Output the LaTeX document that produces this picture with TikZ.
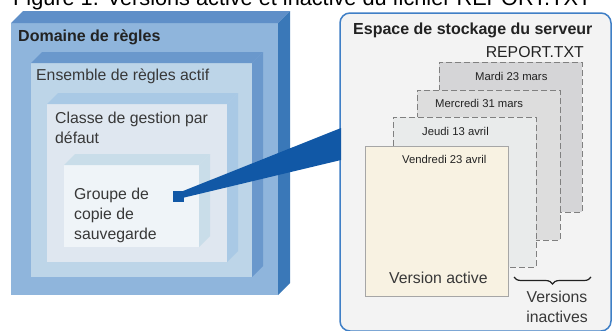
\documentclass[tikz,border=0pt]{standalone}
\usepackage{fontspec}
\setmainfont{Liberation Sans}
\usetikzlibrary{calc, decorations.pathreplacing}
\definecolor{domfront}{HTML}{8FB5DC}
\definecolor{domtop}{HTML}{5F8FC8}
\definecolor{domside}{HTML}{3A78B8}
\definecolor{ensfront}{HTML}{BDD5E8}
\definecolor{ensbevel}{HTML}{6A98CC}
\definecolor{clsfront}{HTML}{DFE7F0}
\definecolor{clsbevel}{HTML}{A9C9E5}
\definecolor{grpfront}{HTML}{EFF4F8}
\definecolor{grpbevel}{HTML}{C9DDE9}
\definecolor{figblue}{HTML}{1158A6}
\definecolor{srvline}{HTML}{3F7FC6}
\definecolor{srvfill}{HTML}{F3F3F3}
\definecolor{pgline}{HTML}{808080}
\definecolor{pgmardi}{HTML}{D5D5D7}
\definecolor{pgmercredi}{HTML}{DDDDDD}
\definecolor{pgjeudi}{HTML}{E9EBEB}
\definecolor{pgactive}{HTML}{F8F2E2}
\definecolor{txtdark}{HTML}{222222}
\definecolor{txtgray}{HTML}{383838}
\tikzset{
  face/.style={anchor=north west, inner sep=0pt, outer sep=0pt},
  ttl/.style={anchor=base west, inner sep=0pt, text=txtdark,
              font=\fontsize{16}{20}\selectfont\bfseries},
  lbl/.style={anchor=base west, inner sep=0pt, text=txtgray, align=left,
              font=\fontsize{15.8}{20}\selectfont},
  page/.style={anchor=north west, inner sep=0pt, outer sep=0pt,
               minimum width=143pt, minimum height=150pt},
  pgdash/.style={page, draw=pgline, line width=1pt, dash pattern=on 6pt off 3pt},
  pglbl/.style={anchor=base west, inner sep=0pt, text=txtdark,
                font=\fontsize{11.3}{13}\selectfont},
}
\newcommand{\bevel}[4]{%
  \fill[#3] (#1.north west) -- ++(#2,-#2) -- ([shift={(#2,-#2)}]#1.north east)
    -- (#1.north east) -- cycle;
  \fill[#4] (#1.north east) -- ++(#2,-#2) -- ([shift={(#2,-#2)}]#1.south east)
    -- (#1.south east) -- cycle;}

\begin{document}
\begin{tikzpicture}[x=1pt, y=-1pt]
  \useasboundingbox (0,0) rectangle (612,330);
  \fill[white] (0,0) rectangle (612,330);

  \node[anchor=base west, inner sep=0pt, text=black,
        font=\fontsize{21.7}{26}\selectfont] (titre) at (13,5)
    {Figure 1. Versions active et inactive du fichier REPORT.TXT};

  % regles
  \node[face, fill=domfront, minimum width=267pt, minimum height=272pt] (domaine) at (11,23) {};
  \bevel{domaine}{12}{domtop}{domside}
  \node[face, fill=ensfront, minimum width=221pt, minimum height=214pt] (ensemble) at (31,63) {};
  \bevel{ensemble}{11}{ensbevel}{ensbevel}
  \node[face, fill=clsfront, minimum width=180pt, minimum height=158pt] (classe) at (47,104) {};
  \bevel{classe}{11}{clsbevel}{clsbevel}
  \node[face, fill=grpfront, minimum width=135pt, minimum height=82pt] (groupe) at (64,165) {};
  \bevel{groupe}{11}{grpbevel}{grpbevel}

  \node[ttl] (domainelbl) at (18,41) {Domaine de règles};
  \node[lbl] (ensemblelbl) at (36,80) {Ensemble de règles actif};
  \node[lbl] (classelbl) at (55,143) {Classe de gestion par\\défaut};
  \node[lbl] (groupelbl) at (74,239) {Groupe de\\copie de\\sauvegarde};
  \node[fill=figblue, minimum size=11pt, inner sep=0pt] (sq) at (178,196) {};

  % serveur
  \node[face, draw=srvline, fill=srvfill, line width=1.5pt, rounded corners=10pt,
        minimum width=271pt, minimum height=318pt] (serveur) at (340,13) {};
  \node[ttl] (serveurlbl) at (353,34) {Espace de stockage du serveur};
  \node[lbl, anchor=base east, text=txtdark] (fichier) at (584,57) {REPORT.TXT};

  \fill[figblue] ($(sq.center)+(0,-3)$) -- ($(serveur.north west)+(1,115)$)
    -- ($(serveur.north west)+(1,147)$) -- ($(sq.center)+(0,3)$) -- cycle;

  \node[pgdash, fill=pgmardi] (mardi) at (439,62) {};
  \node[pglbl] at ($(mardi.north west)+(36,18)$) {Mardi 23 mars};
  \node[pgdash, fill=pgmercredi] (mercredi) at (417,90) {};
  \node[pglbl] at ($(mercredi.north west)+(18,17)$) {Mercredi 31 mars};
  \node[pgdash, fill=pgjeudi] (jeudi) at (393,117) {};
  \node[pglbl] at ($(jeudi.north west)+(29,18)$) {Jeudi 13 avril};
  \node[page, draw=gray!70, line width=1pt, fill=pgactive] (vendredi) at (365,146) {};
  \node[pglbl] at ($(vendredi.north west)+(37,17)$) {Vendredi 23 avril};
  \node[lbl, text=txtgray] (active) at (389,283) {Version active};

  \coordinate (accg) at (514,277);
  \coordinate (accd) at (591,277);
  \draw[txtdark, line width=1.2pt, decorate, decoration={brace, mirror, amplitude=7pt}]
    (accg) -- (accd);
  \node[lbl, align=center, anchor=base] (inactives) at (557,322) {Versions\\inactives};
\end{tikzpicture}
\end{document}
